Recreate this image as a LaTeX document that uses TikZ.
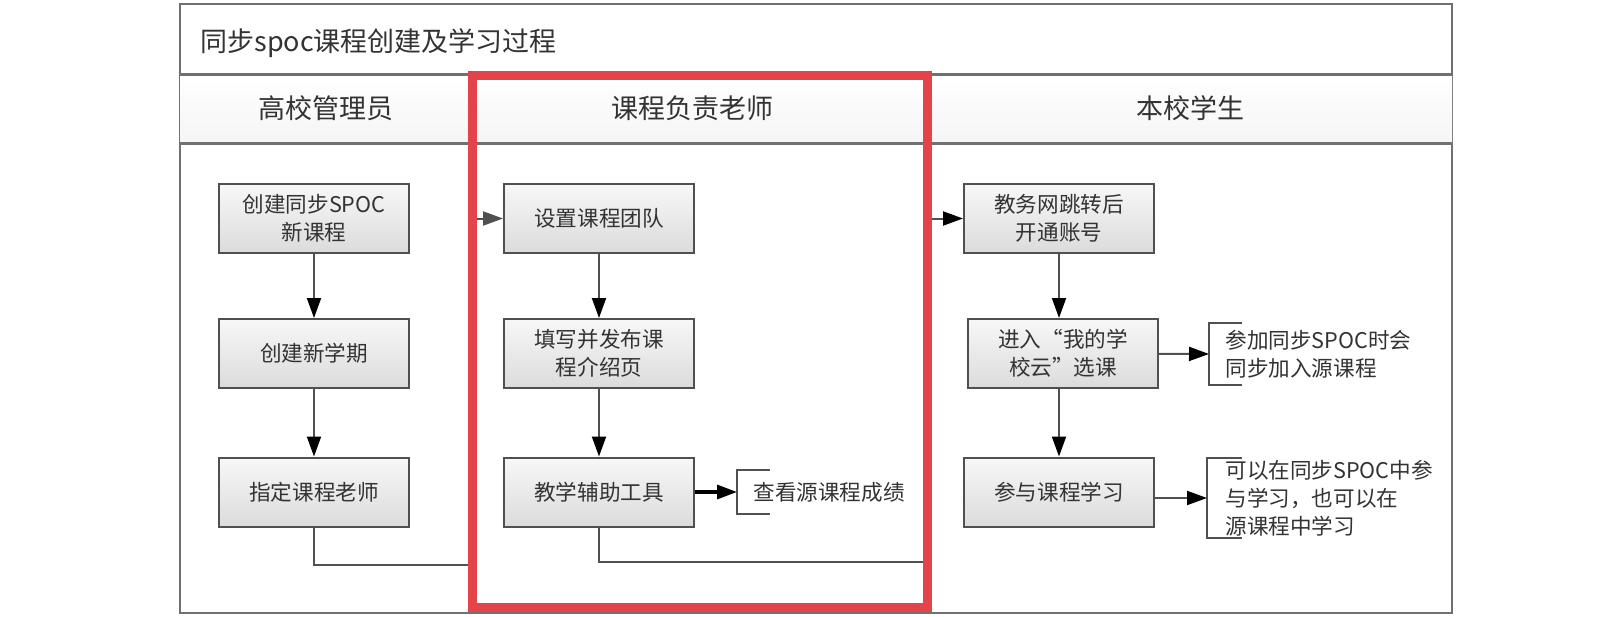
\documentclass[tikz,border=0pt]{standalone}
\usepackage{fontspec}
\setmainfont{Noto Sans CJK SC}
\usetikzlibrary{arrows.meta,calc}
\definecolor{framegray}{HTML}{707070}
\definecolor{boxline}{HTML}{505050}
\definecolor{textgray}{HTML}{333333}
\definecolor{markred}{HTML}{E5434A}
\tikzset{
	stepbox/.style={draw=boxline, line width=1pt, top color=white!97!black, bottom color=white!86!black,
		minimum width=95pt, minimum height=34.5pt, inner sep=0pt, align=center, text=textgray,
		font=\fontsize{10.8}{14}\selectfont},
	flow/.style={draw=boxline, line width=1pt, -{Triangle[length=10pt,width=7pt,color=black]}},
	note/.style={anchor=west, align=left, inner sep=0pt, text=textgray, font=\fontsize{10.8}{14}\selectfont},
	bracket/.style={draw=boxline, line width=1.2pt},
	lanehead/.style={inner sep=0pt, text=textgray, font=\fontsize{13.5}{16}\selectfont}
}

\begin{document}
\begin{tikzpicture}[x=0.5pt,y=-0.5pt]
		\useasboundingbox (0,0) rectangle (1612,616);
		%%%%% START %%%%%
		% frame, title row and lane heads
		\draw[framegray, line width=1pt, fill=white] (180,4) rectangle (1452,613);
		\shade[top color=white, bottom color=white!96!black] (180,75) rectangle (1452,143);
		\draw[framegray, line width=1.5pt] (180,74) -- (1452,74);
		\draw[framegray, line width=1.5pt] (180,143) -- (1452,143);
		\draw[framegray, line width=1pt] (472,74) -- (472,613);
		\draw[framegray, line width=1pt] (927,74) -- (927,613);
		\node[lanehead, anchor=west] (title) at (200,43) {同步spoc课程创建及学习过程};
		\node[lanehead] (head1) at (326,108) {高校管理员};
		\node[lanehead] (head2) at (692,108) {课程负责老师};
		\node[lanehead] (head3) at (1190,108) {本校学生};
		
		% school admin
		\node[stepbox] (a1) at (314,218.5) {创建同步SPOC\\新课程};
		\node[stepbox] (a2) at (314,353.5) {创建新学期};
		\node[stepbox] (a3) at (314,492) {指定课程老师};
		\draw[flow] (a1) -- (a2);
		\draw[flow] (a2) -- (a3);
		
		% course teacher
		\node[stepbox] (t1) at (599,218.5) {设置课程团队};
		\node[stepbox] (t2) at (599,353.5) {填写并发布课\\程介绍页};
		\node[stepbox] (t3) at (599,492) {教学辅助工具};
		\draw[flow] (t1) -- (t2);
		\draw[flow] (t2) -- (t3);
		\coordinate (n1) at (737,492);
		\draw[bracket] ($(n1)+(33,-22)$) -- ++(-33,0) -- ++(0,44) -- ++(33,0);
		\node[note] (n1text) at (753,492) {查看源课程成绩};
		\draw[flow, draw=black, line width=1.6pt] (t3) -- (n1);
		
		% students
		\node[stepbox] (s1) at (1059,218.5) {教务网跳转后\\开通账号};
		\node[stepbox] (s2) at (1063,353.5) {进入“我的学\\校云”选课};
		\node[stepbox] (s3) at (1059,492) {参与课程学习};
		\draw[flow] (s1.south) -- (s1.south |- s2.north);
		\draw[flow] (s2.south -| s3.north) -- (s3.north);
		\coordinate (n2) at (1209,354);
		\draw[bracket] ($(n2)+(33,-31)$) -- ++(-33,0) -- ++(0,62) -- ++(33,0);
		\node[note] (n2text) at (1225,354) {参加同步SPOC时会\\同步加入源课程};
		\draw[flow] (s2) -- (n2);
		\coordinate (n3) at (1207,498);
		\draw[bracket] ($(n3)+(35,-40)$) -- ++(-35,0) -- ++(0,80) -- ++(35,0);
		\node[note] (n3text) at (1225,498) {可以在同步SPOC中参\\与学习，也可以在\\源课程中学习};
		\draw[flow] (s3.east |- n3) -- (n3);
		
		% hand-overs between lanes
		\coordinate (c1) at (472,565);
		\coordinate (c2) at (927,562);
		\draw[flow, -{Triangle[length=10pt,width=7pt,color=boxline]}] (a3.south) |- (c1) |- (t1.west);
		\draw[flow] (t3.south) |- (c2) |- (s1.west);
		
		% highlight
		\draw[markred, line width=4.5pt] (472,75) rectangle (927,607);
		%%%%% END %%%%%
	\end{tikzpicture}
\end{document}
